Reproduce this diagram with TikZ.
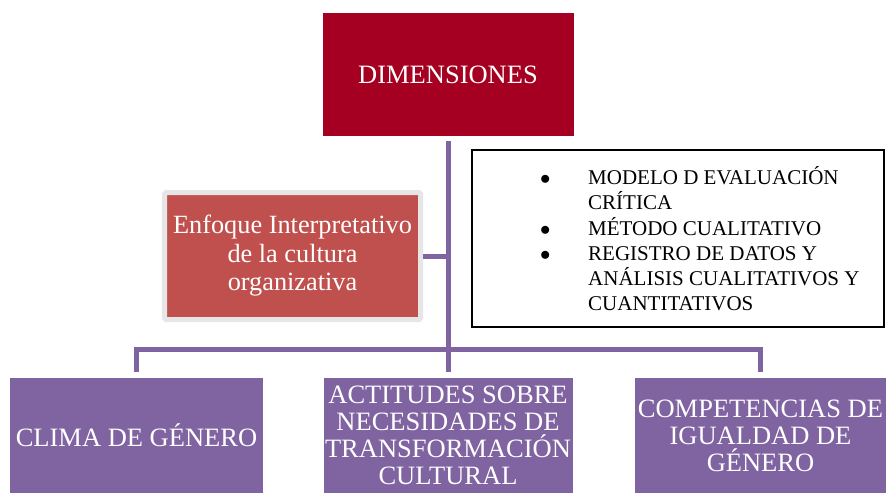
\documentclass[tikz,border=0pt]{standalone}
\usepackage{fontspec}
\setmainfont{Liberation Serif}
\definecolor{dimred}{HTML}{A50021}
\definecolor{enfred}{HTML}{C0504D}
\definecolor{lilac}{HTML}{8064A2}
\definecolor{frame}{HTML}{E6E6E6}
\begin{document}
\begin{tikzpicture}[x=1pt,y=-1pt,
  topbox/.style={fill=dimred, text=white, minimum width=251pt, minimum height=123pt, inner sep=0pt,
    font=\fontsize{26.5}{30}\selectfont},
  enfbox/.style={fill=enfred, draw=frame, line width=5pt, rounded corners=1.5pt, text=white,
    minimum width=256pt, minimum height=127pt, inner sep=0pt, align=center,
    font=\fontsize{26.3}{28.5}\selectfont},
  metbox/.style={draw=black, line width=1.5pt, minimum width=412pt, minimum height=177pt, inner sep=0pt},
  listtext/.style={inner sep=0pt, anchor=north west, font=\fontsize{21}{25}\selectfont},
  dimbox/.style={fill=lilac, text=white, minimum height=115pt, inner sep=0pt, align=center,
    font=\fontsize{26.5}{27}\selectfont},
  conn/.style={draw=lilac, line width=5pt}]
\useasboundingbox (0,0) rectangle (886,493);

\node[topbox] (dim) at (448,74.5) {DIMENSIONES};
\node[enfbox] (enf) at (292.5,256) {Enfoque Interpretativo\\de la cultura\\organizativa};
\node[metbox] (met) at (678,238.5) {};
\node[listtext] (metlist) at (541,166) {%
  \begin{tabular}{@{}p{47pt}@{}l@{}}
  \makebox[8pt]{$\bullet$} & MODELO D EVALUACIÓN\\
   & CRÍTICA\\
  \makebox[8pt]{$\bullet$} & MÉTODO CUALITATIVO\\
  \makebox[8pt]{$\bullet$} & REGISTRO DE DATOS Y\\
   & ANÁLISIS CUALITATIVOS Y\\
   & CUANTITATIVOS
  \end{tabular}};

\node[dimbox, minimum width=253pt] (b1) at (136.5,435.5) {CLIMA DE GÉNERO};
\node[dimbox, minimum width=249pt] (b2) at (448,435.5) {ACTITUDES SOBRE\\NECESIDADES DE\\TRANSFORMACIÓN\\CULTURAL};
\node[dimbox, minimum width=251pt] (b3) at (760.5,435.5) {COMPETENCIAS DE\\IGUALDAD DE\\GÉNERO};

\draw[conn] ([yshift=-5pt]dim.south) -- ([yshift=6pt]b2.north);
\draw[conn] ([yshift=6pt]b1.north) -- ++(0,-22) -| ([yshift=6pt]b3.north);
\draw[conn] (enf.east) -- (enf.east -| dim.south);
\end{tikzpicture}
\end{document}
